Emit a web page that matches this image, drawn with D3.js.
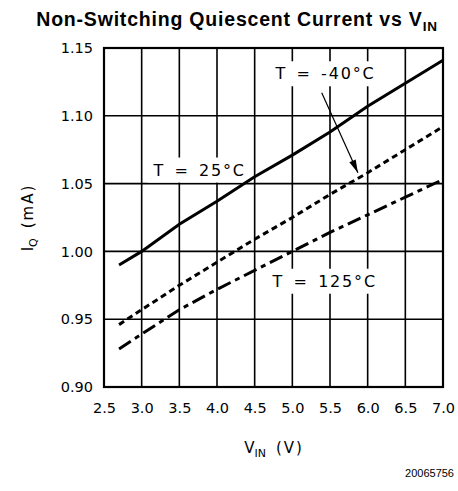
<!DOCTYPE html>
<html>
<head>
<meta charset="utf-8">
<script src="https://cdn.jsdelivr.net/npm/d3@7"></script>
<style>
  body { margin: 0; background: #fff; }
  svg { display: block; }
</style>
</head>
<body>
<div id="chart"></div>
<script>
// chart data
var vin = [2.7, 3.0, 3.5, 4.0, 4.5, 5.0, 5.5, 6.0, 6.5, 7.0]
var iq25 = [0.990, 1.000, 1.020, 1.037, 1.055, 1.071, 1.088, 1.107, 1.124, 1.141]
var iqM40 = [0.946, 0.957, 0.975, 0.992, 1.009, 1.025, 1.042, 1.058, 1.075, 1.092]
var iq125 = [0.928, 0.939, 0.957, 0.972, 0.986, 1.000, 1.014, 1.027, 1.040, 1.053]
var xTicks = [2.5, 3.0, 3.5, 4.0, 4.5, 5.0, 5.5, 6.0, 6.5, 7.0]
var yTicks = [0.90, 0.95, 1.00, 1.05, 1.10, 1.15]

var width = 458
var height = 491
var margin = { top: 48, right: 15, bottom: 104, left: 104 }
var w = width - margin.left - margin.right
var h = height - margin.top - margin.bottom
var tickFont = '"DejaVu Sans", sans-serif'

var svg = d3.select('#chart').append('svg')
  .attr('width', width)
  .attr('height', height)

// title
var title = svg.append('text')
  .attr('x', 237)
  .attr('y', 26)
  .attr('text-anchor', 'middle')
  .attr('font-family', 'Liberation Sans, Arial, sans-serif')
  .attr('font-weight', 'bold')
  .attr('font-size', 19.5)
  .attr('letter-spacing', 0.8)
  .text('Non-Switching Quiescent Current vs V')
title.append('tspan').attr('font-size', 13.5).attr('dy', 5).text('IN')

var g = svg.append('g')
  .attr('transform', 'translate(' + margin.left + ',' + margin.top + ')')

var x = d3.scaleLinear().domain([2.5, 7.0]).range([0, w])
var y = d3.scaleLinear().domain([0.90, 1.15]).range([h, 0])

// grid lines
g.append('g')
  .selectAll('line')
  .data(xTicks)
  .enter()
  .append('line')
  .attr('x1', function (d) { return x(d) })
  .attr('x2', function (d) { return x(d) })
  .attr('y1', 0)
  .attr('y2', h)
  .attr('stroke', '#000')
  .attr('stroke-width', 1.6)
g.append('g')
  .selectAll('line')
  .data(yTicks)
  .enter()
  .append('line')
  .attr('x1', 0)
  .attr('x2', w)
  .attr('y1', function (d) { return y(d) })
  .attr('y2', function (d) { return y(d) })
  .attr('stroke', '#000')
  .attr('stroke-width', 1.6)
g.append('rect')
  .attr('width', w)
  .attr('height', h)
  .attr('fill', 'none')
  .attr('stroke', '#000')
  .attr('stroke-width', 2.2)

// axes (tick labels only)
var xAxis = d3.axisBottom(x).tickValues(xTicks).tickSize(0).tickPadding(16)
  .tickFormat(d3.format('.1f'))
g.append('g')
  .attr('transform', 'translate(0,' + h + ')')
  .call(xAxis)
  .call(function (s) { s.select('.domain').remove() })
  .selectAll('text')
  .attr('font-family', tickFont)
  .attr('font-size', 14.5)
  .attr('fill', '#000')

var yAxis = d3.axisLeft(y).tickValues(yTicks).tickSize(0).tickPadding(11)
  .tickFormat(d3.format('.2f'))
g.append('g')
  .call(yAxis)
  .call(function (s) { s.select('.domain').remove() })
  .selectAll('text')
  .attr('font-family', tickFont)
  .attr('font-size', 14.5)
  .attr('fill', '#000')

// axis titles
var xt = svg.append('text')
  .attr('x', 274)
  .attr('y', 453)
  .attr('text-anchor', 'middle')
  .attr('font-family', tickFont)
  .attr('font-size', 15)
  .text('V')
xt.append('tspan').attr('font-size', 11).attr('dy', 4).text('IN')
xt.append('tspan').attr('dy', -4).attr('dx', 10).attr('letter-spacing', 2).text('(V)')

var yt = svg.append('text')
  .attr('transform', 'translate(33,' + (margin.top + h / 2) + ') rotate(-90)')
  .attr('text-anchor', 'middle')
  .attr('font-family', tickFont)
  .attr('font-size', 15)
  .text('I')
yt.append('tspan').attr('font-size', 11).attr('dy', 4).text('Q')
yt.append('tspan').attr('dy', -4).attr('dx', 10).attr('letter-spacing', 2).text('(mA)')

// labels with white boxes that cut the grid
var labels = [
  { text: 'T = 25°C', v: 3.77, i: 1.060 },
  { text: 'T = -40°C', v: 5.44, i: 1.131 },
  { text: 'T = 125°C', v: 5.43, i: 0.978 }
]
labels.forEach(function (d) {
  var t = g.append('text')
    .attr('x', x(d.v))
    .attr('y', y(d.i))
    .attr('text-anchor', 'middle')
    .attr('dominant-baseline', 'central')
    .attr('font-family', tickFont)
    .attr('font-size', 16)
    .attr('letter-spacing', 1.8)
    .attr('word-spacing', 2.5)
    .text(d.text)
  var bb = t.node().getBBox()
  g.insert('rect', function () { return t.node() })
    .attr('x', bb.x - 5)
    .attr('y', bb.y - 3)
    .attr('width', bb.width + 8)
    .attr('height', bb.height + 6)
    .attr('fill', '#fff')
})

// curves
var line = d3.line()
  .x(function (d) { return x(d[0]) })
  .y(function (d) { return y(d[1]) })
var series = [
  { vals: iq25, dash: null },
  { vals: iqM40, dash: '6,4' },
  { vals: iq125, dash: '14,5,5,5' }
]
series.forEach(function (s) {
  g.append('path')
    .datum(vin.map(function (v, i) { return [v, s.vals[i]] }))
    .attr('fill', 'none')
    .attr('stroke', '#000')
    .attr('stroke-width', 3)
    .attr('stroke-dasharray', s.dash)
    .attr('d', line)
})

// arrow from -40 label to its curve
var ax1 = x(5.39), ay1 = y(1.117)
var ax2 = x(5.87), ay2 = y(1.058)
g.append('line')
  .attr('x1', ax1).attr('y1', ay1)
  .attr('x2', ax2).attr('y2', ay2)
  .attr('stroke', '#000')
  .attr('stroke-width', 1.2)
var ang = Math.atan2(ay2 - ay1, ax2 - ax1)
var hl = 13, hw = 3.5
var bx = ax2 - hl * Math.cos(ang), by = ay2 - hl * Math.sin(ang)
g.append('path')
  .attr('d', 'M' + ax2 + ',' + ay2 +
    'L' + (bx + hw * Math.sin(ang)) + ',' + (by - hw * Math.cos(ang)) +
    'L' + (bx - hw * Math.sin(ang)) + ',' + (by + hw * Math.cos(ang)) + 'Z')
  .attr('fill', '#000')

// figure number
svg.append('text')
  .attr('x', 454)
  .attr('y', 477)
  .attr('text-anchor', 'end')
  .attr('font-family', 'Liberation Sans, Arial, sans-serif')
  .attr('font-size', 11)
  .text('20065756')
</script>
</body>
</html>
